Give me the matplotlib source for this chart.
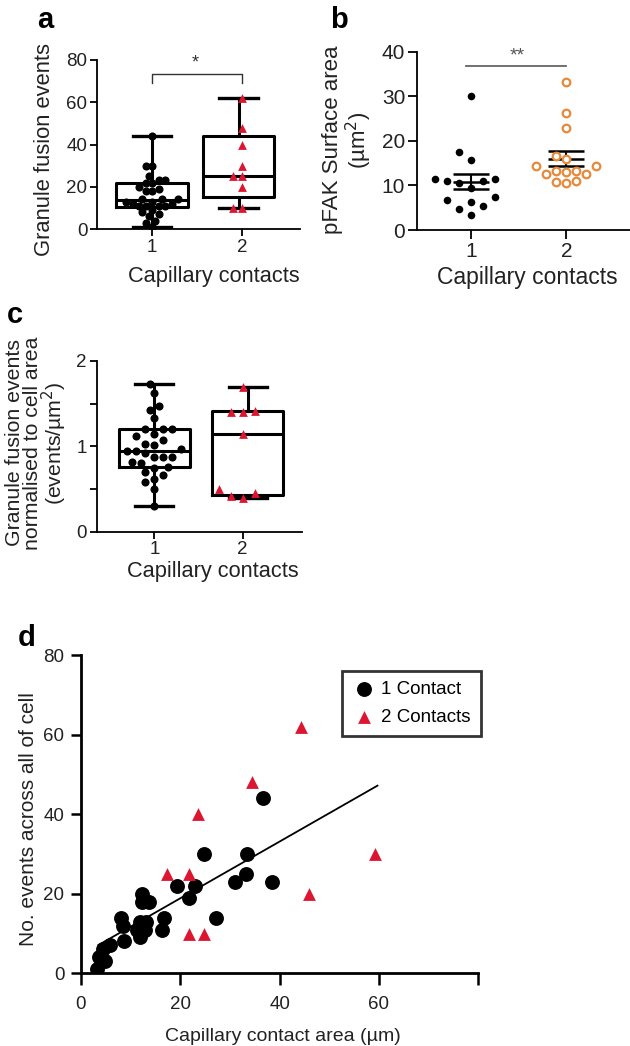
#recreating the capillary contact figure (panels a-d)
import numpy as np
import matplotlib.pyplot as plt

plt.rcParams['font.family'] = ['Liberation Sans', 'DejaVu Sans']

# ---- data ----
categories = [1, 2]
cat_labels = ['1', '2']

# panel a / d : granule fusion events per cell
one_area = [3.2, 3.6, 4.8, 4.5, 5.9, 8.0, 8.4, 8.7, 11.2, 11.9, 12.2, 12.2, 13.6, 11.9, 12.9,
            11.5, 12.5, 13.0, 16.4, 16.7, 19.3, 21.7, 23.0, 24.8, 27.2, 31.1, 33.2, 33.4, 36.7, 38.4]
one_events = [1, 4, 3, 6, 7, 14, 12, 8, 11, 13, 20, 18, 18, 9, 11,
              11, 12, 13, 11, 14, 22, 19, 22, 30, 14, 23, 25, 30, 44, 23]
two_area = [17.4, 21.8, 23.5, 21.7, 24.7, 34.4, 44.2, 45.9, 59.1]
two_events = [25, 25, 40, 10, 10, 48, 62, 20, 30]

# panel b : pFAK surface area (um^2)
pfak_one = [30.1, 17.6, 15.8, 11.1, 10.5, 11.5, 11.5, 11.0, 9.4, 7.4, 6.2, 5.4, 6.8, 4.8, 3.3]
pfak_two = [33.1, 26.2, 22.8, 16.6, 16.0, 14.4, 14.4, 13.3, 13.3, 12.6, 12.6, 12.9, 10.8, 11.0, 10.6]

# panel c : events normalised to cell area
norm_one = [0.30, 0.50, 0.58, 0.62, 0.66, 0.70, 0.75, 0.76, 0.80, 0.82, 0.87, 0.88, 0.88, 0.92, 0.95,
            0.95, 0.97, 1.02, 1.03, 1.07, 1.12, 1.15, 1.20, 1.20, 1.20, 1.33, 1.43, 1.47, 1.63, 1.73]
norm_two = [0.40, 0.42, 0.45, 0.50, 1.14, 1.40, 1.40, 1.42, 1.70]

# panel d : regression line
fit_slope = 0.713
fit_intercept = 4.6
fit_x = [3.5, 59.7]

RED = '#dc1631'
ORANGE = '#e8893a'
TXT = '#222222'


def prism_stats(values):
    """Box stats like GraphPad: (n+1) quartiles, whiskers min to max."""
    q1, med, q3 = np.percentile(values, [25, 50, 75], method='weibull')
    return dict(med=med, q1=q1, q3=q3, whislo=min(values), whishi=max(values), fliers=[])


def swarm_x(ax, x0, values, sep_px):
    """Spread points sideways so they do not overlap (simple bee swarm)."""
    vals = np.asarray(values, dtype=float)
    disp = ax.transData.transform(np.column_stack([np.full(len(vals), float(x0)), vals]))
    cx = disp[0, 0]
    order = np.argsort(disp[:, 1])
    placed = []
    out = np.zeros(len(vals))
    step = sep_px * 0.5
    for i in order:
        y = disp[i, 1]
        k = 0
        while True:
            found = None
            for c in ([0] if k == 0 else [-k, k]):
                x = cx + c * step
                if all((x - px) ** 2 + (y - py) ** 2 >= sep_px ** 2 for px, py in placed):
                    found = x
                    break
            if found is not None:
                break
            k += 1
        placed.append((found, y))
        out[i] = ax.transData.inverted().transform((found, y))[0]
    return out


def style_axes(ax, tick_size, tick_len):
    for s in ['top', 'right']:
        ax.spines[s].set_visible(False)
    for s in ['left', 'bottom']:
        ax.spines[s].set_linewidth(1.3)
    ax.tick_params(direction='out', length=tick_len, width=1.3, labelsize=tick_size,
                   colors='black', labelcolor=TXT, pad=2)


def draw_boxes(ax, groups, positions, widths):
    ax.bxp([prism_stats(g) for g in groups], positions=positions, widths=widths,
           capwidths=0.43, showfliers=False, manage_ticks=False,
           boxprops=dict(linewidth=2.2, color='black'), whiskerprops=dict(linewidth=2.2),
           capprops=dict(linewidth=2.4), medianprops=dict(linewidth=2.2, color='black'))


fig = plt.figure(figsize=(6.3, 10.46), dpi=100)
W, H = 630.0, 1046.0


def add_axes_px(left, right, top, bottom):
    return fig.add_axes([left / W, 1 - bottom / H, (right - left) / W, (bottom - top) / H])


# ---- panel a ----
ax = add_axes_px(97, 300, 60, 229)
ax.set_xlim(0.39, 2.64)
ax.set_ylim(0, 80)
style_axes(ax, 13.5, 5)
draw_boxes(ax, [one_events, two_events], [1, 1.96], 0.79)
ax.set_xticks(categories)
ax.set_xticklabels(cat_labels)
ax.set_yticks([0, 20, 40, 60, 80])
ax.scatter(swarm_x(ax, 1, one_events, 6.5), one_events, s=34, color='black', zorder=3, lw=0)
ax.scatter(swarm_x(ax, 2, two_events, 9), two_events, s=40, marker='^', color=RED, zorder=3, lw=0)
ax.plot([1, 1, 2, 2], [69, 73.4, 73.4, 69], color='#333333', lw=1)
ax.text(1.48, 74.5, '*', ha='center', va='bottom', fontsize=13, color='#333333')
fig.text(45 / W, 1 - 149.5 / H, 'Granule fusion events', rotation=90, ha='center', va='center',
         fontsize=15.8, color=TXT)
fig.text(214 / W, 1 - 282 / H, 'Capillary contacts', ha='center', va='baseline', fontsize=15.7,
         color=TXT)
fig.text(45 / W, 1 - 28 / H, 'a', ha='center', va='baseline', fontsize=21, fontweight='bold')

# ---- panel b ----
ax = add_axes_px(417, 630, 51.7, 230)
ax.set_xlim(0.43, 2.67)
ax.set_ylim(0, 40)
style_axes(ax, 15, 6.5)
ax.set_xticks(categories)
ax.set_xticklabels(cat_labels)
ax.set_yticks([0, 10, 20, 30, 40])
for pos, vals in zip(categories, [pfak_one, pfak_two]):
    m = np.mean(vals)
    sem = np.std(vals, ddof=1) / np.sqrt(len(vals))
    ax.hlines(m, pos - 0.19, pos + 0.19, color='black', lw=1.8, zorder=2)
    ax.errorbar([pos], [m], yerr=[sem], fmt='none', ecolor='black', elinewidth=1.5,
                capsize=13, capthick=1.8, zorder=2)
ax.scatter(swarm_x(ax, 1, pfak_one, 12), pfak_one, s=30, color='black', zorder=3, lw=0)
ax.scatter(swarm_x(ax, 2, pfak_two, 10), pfak_two, s=30, facecolor='white',
           edgecolor=ORANGE, linewidth=1.6, zorder=3)
ax.plot([0.95, 2.0], [36.9, 36.9], color='#666666', lw=1.3)
ax.text(1.48, 37.2, '**', ha='center', va='bottom', fontsize=14, color='#555555')
fig.text(348 / W, 1 - 140 / H, 'pFAK Surface area\n(µm$^2$)', rotation=90, ha='center',
         va='center', fontsize=16, color=TXT, linespacing=1.0)
fig.text(527 / W, 1 - 284 / H, 'Capillary contacts', ha='center', va='baseline', fontsize=16.5,
         color=TXT)
fig.text(339 / W, 1 - 28 / H, 'b', ha='center', va='baseline', fontsize=21, fontweight='bold')

# ---- panel c ----
ax = add_axes_px(96.7, 302, 361, 531.7)
ax.set_xlim(0.345, 2.675)
ax.set_ylim(0, 2)
style_axes(ax, 13.5, 5)
draw_boxes(ax, [norm_one, norm_two], [1, 2.06], 0.81)
ax.set_xticks(categories)
ax.set_xticklabels(cat_labels)
ax.set_yticks([0, 0.5, 1, 1.5, 2])
ax.set_yticklabels(['0', '', '1', '', '2'])
ax.scatter(swarm_x(ax, 1, norm_one, 9), norm_one, s=34, color='black', zorder=3, lw=0)
ax.scatter(swarm_x(ax, 2, norm_two, 12), norm_two, s=40, marker='^', color=RED, zorder=3, lw=0)
fig.text(37 / W, 1 - 443 / H, 'Granule fusion events\nnormalised to cell area\n(events/µm$^2$)',
         rotation=90, ha='center', va='center', fontsize=15.3, color=TXT, linespacing=0.92)
fig.text(213 / W, 1 - 577 / H, 'Capillary contacts', ha='center', va='baseline', fontsize=15.7,
         color=TXT)
fig.text(15 / W, 1 - 323 / H, 'c', ha='center', va='baseline', fontsize=21, fontweight='bold')

# ---- panel d ----
ax = add_axes_px(81, 478.3, 655, 973.3)
ax.set_xlim(0, 80)
ax.set_ylim(0, 80)
for s in ['top', 'right']:
    ax.spines[s].set_visible(False)
for s in ['left', 'bottom']:
    ax.spines[s].set_linewidth(2)
ax.tick_params(axis='x', direction='out', length=8.5, width=1.8, labelsize=13.5,
               labelcolor=TXT, pad=8)
ax.tick_params(axis='y', direction='out', length=7, width=1.8, labelsize=13.5,
               labelcolor=TXT, pad=5)
ax.set_xticks([0, 20, 40, 60, 80])
ax.set_xticklabels(['0', '20', '40', '60', ''])
ax.set_yticks([0, 20, 40, 60, 80])
fx = np.array(fit_x)
ax.plot(fx, fit_slope * fx + fit_intercept, color='black', lw=1.3, zorder=2)
ax.scatter(one_area, one_events, s=115, color='black', lw=0, zorder=3, label='1 Contact')
ax.scatter(two_area, two_events, s=85, marker='^', color=RED, lw=0, zorder=3, label='2 Contacts')
leg = ax.legend(loc='upper right', bbox_to_anchor=(1.006, 0.95), fontsize=13.5, frameon=True,
                fancybox=False, borderpad=0.55, handletextpad=0.3, labelspacing=0.55,
                borderaxespad=0, handlelength=1.2, scatterpoints=1)
leg.get_frame().set_edgecolor('black')
leg.get_frame().set_linewidth(2)
fig.text(28.5 / W, 1 - 819 / H, 'No. events across all of cell', rotation=90, ha='center',
         va='center', fontsize=15, color=TXT)
fig.text(282.5 / W, 1 - 1041 / H, 'Capillary contact area (µm)', ha='center', va='baseline',
         fontsize=14, color=TXT)
fig.text(27 / W, 1 - 646 / H, 'd', ha='center', va='baseline', fontsize=21, fontweight='bold')

fig.savefig('out.png', dpi=100)
